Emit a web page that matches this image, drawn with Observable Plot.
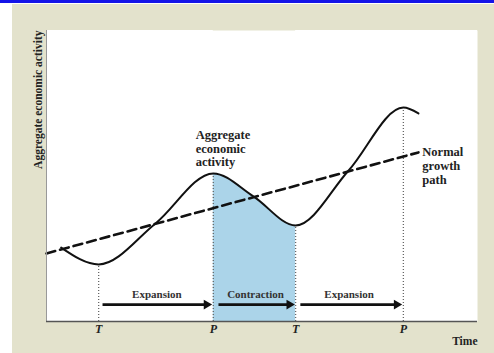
<!DOCTYPE html>
<html>
<head>
<meta charset="utf-8">
<script src="https://cdn.jsdelivr.net/npm/d3@7"></script>
<script src="https://cdn.jsdelivr.net/npm/@observablehq/plot@0.6"></script>
<style>
  html, body { margin: 0; padding: 0; background: #fff; }
  #wrap { position: relative; width: 494px; height: 353px; background: #fff; overflow: hidden; }
  #topbar { position: absolute; left: 0; top: 0; width: 494px; height: 3px; background: #1414e8; }
  #bg { position: absolute; left: 12px; top: 4px; right: 0; bottom: 0; background: #e3e2cc; }
  #chart { position: absolute; left: 0; top: 0; }
</style>
</head>
<body>
<div id="wrap">
  <div id="topbar"></div>
  <div id="bg"></div>
  <div id="chart"></div>
</div>
<script>
// Business cycle curve (time, aggregate activity): ends, turning points and mid-crossings
const curveX = [3.4, 12.1, 25.3, 38.7, 48.0, 57.8, 70.1, 82.8, 86.3];
const curveY = [25.4, 19.6, 33.7, 50.9, 43.0, 33.0, 51.9, 73.5, 71.5];

// Normal growth path (trend line)
const trendX = [0, 86.3];
const trendY = [23.4, 58.1];

// Turning points
const tpX = [12.1, 38.7, 57.8, 82.8];
const tpY = [19.6, 50.9, 33.0, 73.5];
const tpLabels = ["T", "P", "T", "P"];

// Phases
const phaseNames = ["Expansion", "Contraction", "Expansion"];
const phaseStart = [13.0, 39.9, 58.9];
const phaseEnd = [37.6, 56.8, 81.7];
const phaseLabelX = [25.6, 48.5, 70.2];
const arrowLevel = 5.8;
const phaseLabelLevel = 9.3;

// Contraction shading range (peak to trough)
const contractionFrom = 38.7;
const contractionTo = 57.8;

const curve = curveX.map((x, i) => ({x, y: curveY[i]}));
const trend = trendX.map((x, i) => ({x, y: trendY[i]}));
const tps = tpX.map((x, i) => ({x, y: tpY[i], label: tpLabels[i]}));
const phases = phaseNames.map((name, i) => ({name, x1: phaseStart[i], x2: phaseEnd[i], lx: phaseLabelX[i], y: arrowLevel, ly: phaseLabelLevel}));
// Parts outside the contraction, masked in white so only the contraction stays shaded
const outside = [{x1: 0, x2: contractionFrom}, {x1: contractionTo, x2: 100}];

const serif = "'Liberation Serif', 'DejaVu Serif', serif";

const chart = Plot.plot({
  width: 494,
  height: 353,
  marginLeft: 46,
  marginRight: 17,
  marginTop: 30,
  marginBottom: 32,
  style: {background: "transparent", fontFamily: serif, overflow: "visible"},
  x: {domain: [0, 100]},
  y: {domain: [0, 100]},
  marks: [
    Plot.frame({fill: "white", stroke: null}),
    Plot.areaY(curve, {x: "x", y: "y", fill: "#abd4e9", curve: "monotone-x"}),
    Plot.rect(outside, {x1: "x1", x2: "x2", y1: 0, y2: 100, fill: "white", inset: 0}),
    Plot.ruleX(tps, {x: "x", y1: 0, y2: "y", stroke: "#666", strokeWidth: 1.3, strokeDasharray: "1,2"}),
    Plot.line(trend, {x: "x", y: "y", stroke: "#111", strokeWidth: 2.6, strokeDasharray: "9,5"}),
    Plot.line(curve, {x: "x", y: "y", stroke: "#111", strokeWidth: 2, curve: "monotone-x"}),
    Plot.link(phases, {x1: "x1", x2: "x2", y1: "y", y2: "y", stroke: "#111", strokeWidth: 2.6}),
    Plot.dot(phases, {x: "x2", y: "y", symbol: "triangle2", rotate: 90, r: 4.6, fill: "#111", stroke: null, dx: -2}),
    Plot.text(phases, {x: "lx", y: "ly", text: "name", fontSize: 11, fontWeight: "bold", fill: "#333", fontFamily: serif}),
    Plot.text(["Aggregate\neconomic\nactivity"], {x: 34.6, y: 59.5, textAnchor: "start", fontSize: 12.5, fontWeight: "bold", lineHeight: 1.1, fill: "#222", fontFamily: serif}),
    Plot.text(["Normal\ngrowth\npath"], {x: 87.2, y: 53.6, textAnchor: "start", fontSize: 12.5, fontWeight: "bold", lineHeight: 1.1, fill: "#222", fontFamily: serif}),
    Plot.ruleX([0], {stroke: "#999", strokeWidth: 1}),
    Plot.ruleY([0], {stroke: "#555", strokeWidth: 1.5}),
    Plot.axisX(tpX, {tickSize: 0, tickPadding: 3, tickFormat: (d, i) => tpLabels[i], fontSize: 12, fontWeight: "bold", fontStyle: "italic", fill: "#222", fontFamily: serif, label: null}),
    Plot.axisY({ticks: [], label: null}),
    Plot.text(["Aggregate economic activity"], {frameAnchor: "top-left", dx: -13, rotate: -90, textAnchor: "end", fontSize: 11.5, fontWeight: "bold", fill: "#222", fontFamily: serif}),
    Plot.text(["Time"], {frameAnchor: "bottom-right", dy: 23, textAnchor: "end", fontSize: 11.5, fontWeight: "bold", fill: "#222", fontFamily: serif})
  ]
});
document.getElementById("chart").appendChild(chart);
</script>
</body>
</html>
